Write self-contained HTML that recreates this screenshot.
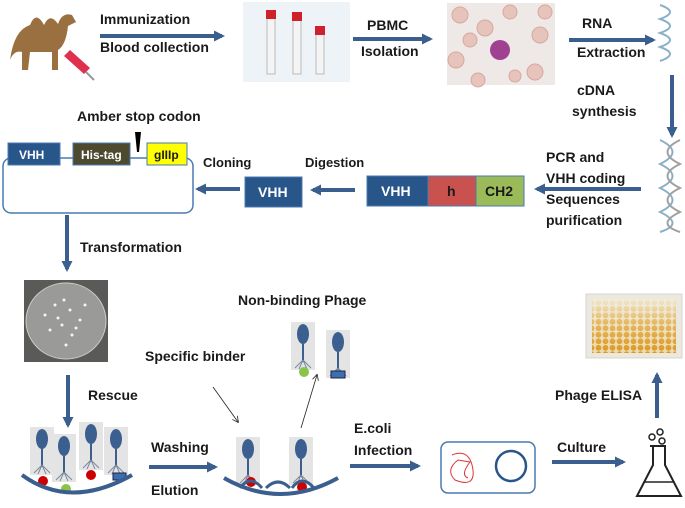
<!DOCTYPE html>
<html><head><meta charset="utf-8"><style>
body{margin:0;background:#fff;}
svg text{font-family:"Liberation Sans",sans-serif;font-weight:bold;font-size:14px;fill:#1a1a1a;}
</style></head><body>
<svg width="685" height="503" viewBox="0 0 685 503" xmlns="http://www.w3.org/2000/svg">
<defs>
<marker id="a" markerUnits="userSpaceOnUse" markerWidth="11" markerHeight="11" refX="8" refY="5.5" orient="auto"><path d="M0,0 L11,5.5 L0,11 z" fill="#3a5f8f"/></marker>
<marker id="t" markerWidth="8" markerHeight="8" refX="7" refY="4" orient="auto"><path d="M0,0 L8,4 L0,8" fill="none" stroke="#222" stroke-width="1"/></marker>
<linearGradient id="pg" x1="0" y1="0" x2="0" y2="1"><stop offset="0" stop-color="#f0e8d0"/><stop offset="0.45" stop-color="#e4b860"/><stop offset="1" stop-color="#dc9a20"/></linearGradient>
<pattern id="wells" width="7" height="6.5" patternUnits="userSpaceOnUse"><path d="M0,0 H7 V6.5 H0z M3.5,0.4 a2.9,2.9 0 1,0 0.01,0z" fill="#f2eee4" fill-rule="evenodd" opacity="0.75"/></pattern>
<g id="ph"><rect x="-12" y="-28" width="24" height="48" fill="#e4e4e4"/><ellipse cx="0" cy="-16" rx="6" ry="10" fill="#3b5f8f"/><line x1="0" y1="-6" x2="0" y2="12" stroke="#3b5f8f" stroke-width="2"/><path d="M0,10 l-8,8 M0,10 l8,8 M0,10 l-4,9 M0,10 l4,9" stroke="#7a8aa0" stroke-width="1"/></g>
</defs>
<path d="M10,60 Q14,30 30,25 Q36,10 44,25 Q50,12 58,24 Q62,12 72,15 L76,22 L68,26 Q66,45 58,50 L58,70 L52,70 L52,52 L30,52 L28,70 L22,70 L22,52 Q14,50 10,60z" fill="#9a7040"/>
<path d="M70,50 L90,68 L84,74 L64,56z" fill="#e03050"/><line x1="86" y1="72" x2="94" y2="80" stroke="#999" stroke-width="2"/>
<text x="100" y="24">Immunization</text><text x="100" y="52">Blood collection</text>
<line x1="100" y1="36" x2="222" y2="36" stroke="#3a5f8f" stroke-width="4" marker-end="url(#a)"/>
<rect x="243" y="2" width="107" height="80" fill="#eef3f8"/>
<g><rect x="267" y="12" width="8" height="62" fill="#f4f4f4" stroke="#bbb"/><rect x="266" y="10" width="10" height="9" fill="#d0202a"/>
<rect x="293" y="14" width="8" height="60" fill="#f4f4f4" stroke="#bbb"/><rect x="292" y="12" width="10" height="9" fill="#d0202a"/>
<rect x="316" y="28" width="8" height="46" fill="#f4f4f4" stroke="#bbb"/><rect x="315" y="26" width="10" height="9" fill="#d0202a"/></g>
<text x="367" y="30">PBMC</text><text x="361" y="56">Isolation</text>
<line x1="353" y1="39" x2="430" y2="39" stroke="#3a5f8f" stroke-width="4" marker-end="url(#a)"/>
<rect x="447" y="3" width="108" height="82" fill="#eee8e6"/>
<g fill="#e6c4bc" stroke="#d7a89d"><circle cx="460" cy="15" r="8"/><circle cx="485" cy="28" r="8"/><circle cx="540" cy="35" r="8"/><circle cx="456" cy="60" r="8"/><circle cx="478" cy="80" r="7"/><circle cx="535" cy="72" r="8"/><circle cx="510" cy="12" r="7"/><circle cx="470" cy="40" r="7"/><circle cx="545" cy="12" r="7"/><circle cx="515" cy="76" r="6"/></g>
<circle cx="500" cy="50" r="10" fill="#a04090"/>
<text x="582" y="28">RNA</text><text x="577" y="57">Extraction</text>
<line x1="569" y1="40" x2="653" y2="40" stroke="#3a5f8f" stroke-width="4" marker-end="url(#a)"/>
<path d="M660,5 Q680,12 660,19 Q680,26 660,33 Q680,40 660,47 Q680,54 660,61" fill="none" stroke="#8ab0c8" stroke-width="2"/>
<line x1="672" y1="75" x2="672" y2="135" stroke="#3a5f8f" stroke-width="4" marker-end="url(#a)"/>
<text x="577" y="95">cDNA</text><text x="572" y="116">synthesis</text>
<path d="M660,140 Q685,152 660,164 Q685,176 660,188 Q685,200 660,212 Q685,224 660,232" fill="none" stroke="#8ab0c8" stroke-width="2"/>
<path d="M680,140 Q655,152 680,164 Q655,176 680,188 Q655,200 680,212 Q655,224 680,232" fill="none" stroke="#a0a0a0" stroke-width="2"/>
<text x="546" y="162">PCR and</text><text x="546" y="183">VHH coding</text><text x="546" y="204">Sequences</text><text x="546" y="225">purification</text>
<line x1="641" y1="189" x2="537" y2="189" stroke="#3a5f8f" stroke-width="4" marker-end="url(#a)"/>
<rect x="367" y="176" width="61" height="30" fill="#28558a" stroke="#4a7ab0"/><text x="381" y="196" style="fill:#fff">VHH</text>
<rect x="428" y="176" width="48" height="30" fill="#c9524f" stroke="#4a7ab0"/><text x="447" y="196">h</text>
<rect x="476" y="176" width="48" height="30" fill="#9bbb59" stroke="#4a7ab0"/><text x="485" y="196">CH2</text>
<line x1="355" y1="190" x2="313" y2="190" stroke="#3a5f8f" stroke-width="4" marker-end="url(#a)"/>
<text x="305" y="167" style="font-size:13px">Digestion</text>
<rect x="245" y="177" width="57" height="30" fill="#28558a" stroke="#4a7ab0"/><text x="258" y="197" style="fill:#fff">VHH</text>
<line x1="240" y1="189" x2="198" y2="189" stroke="#3a5f8f" stroke-width="4" marker-end="url(#a)"/>
<text x="203" y="167" style="font-size:13px">Cloning</text>
<rect x="3" y="158" width="190" height="55" rx="8" fill="none" stroke="#4a7ab0" stroke-width="1.5"/>
<rect x="8" y="143" width="52" height="22" fill="#28558a" stroke="#4a7ab0"/><text x="19" y="159" style="fill:#fff;font-size:12px">VHH</text>
<rect x="73" y="143" width="57" height="22" fill="#4e4a30" stroke="#4a7ab0"/><text x="81" y="159" style="fill:#fff;font-size:12px">His-tag</text>
<rect x="147" y="143" width="40" height="22" fill="#ffff00" stroke="#4a7ab0"/><text x="154" y="159" style="font-size:12px">gIIIp</text>
<path d="M135,132 L141,132 L139,152 L137,152z" fill="#000"/>
<text x="77" y="121">Amber stop codon</text>
<line x1="67" y1="215" x2="67" y2="269" stroke="#3a5f8f" stroke-width="4" marker-end="url(#a)"/>
<text x="80" y="252">Transformation</text>
<rect x="24" y="280" width="84" height="82" fill="#5a5a58"/><ellipse cx="66" cy="321" rx="40" ry="38" fill="#9a9a98" stroke="#ccc"/>
<g fill="#f4f4f4"><circle cx="55" cy="305" r="1.5"/><circle cx="70" cy="310" r="1.5"/><circle cx="62" cy="325" r="1.5"/><circle cx="80" cy="320" r="1.5"/><circle cx="50" cy="330" r="1.5"/><circle cx="72" cy="335" r="1.5"/><circle cx="85" cy="305" r="1.5"/><circle cx="45" cy="315" r="1.5"/><circle cx="66" cy="345" r="1.5"/><circle cx="58" cy="318" r="1.5"/><circle cx="76" cy="328" r="1.5"/><circle cx="64" cy="300" r="1.5"/></g>
<line x1="68" y1="375" x2="68" y2="425" stroke="#3a5f8f" stroke-width="4" marker-end="url(#a)"/>
<text x="88" y="400">Rescue</text>
<use href="#ph" x="42" y="455"/><use href="#ph" x="64" y="462"/><use href="#ph" x="91" y="450"/><use href="#ph" x="116" y="455"/>
<circle cx="43" cy="481" r="5" fill="#c00"/><circle cx="66" cy="489" r="5" fill="#8bc34a"/><circle cx="91" cy="475" r="5" fill="#c00"/><rect x="113" y="473" width="13" height="7" fill="#3b6fb0" stroke="#224"/>
<path d="M22,475 Q70,510 132,475" fill="none" stroke="#3a5f8f" stroke-width="4"/>
<text x="151" y="452">Washing</text><text x="151" y="495">Elution</text>
<line x1="149" y1="467" x2="215" y2="467" stroke="#3a5f8f" stroke-width="4" marker-end="url(#a)"/>
<use href="#ph" x="248" y="465"/><use href="#ph" x="301" y="465"/>
<circle cx="251" cy="482" r="5" fill="#c00"/><circle cx="302" cy="487" r="5" fill="#c00"/>
<path d="M224,478 Q280,510 338,478" fill="none" stroke="#3a5f8f" stroke-width="4"/>
<path d="M240,488 q10,-14 22,0 M266,488 q12,-12 24,0 M292,488 q10,-14 22,0" fill="none" stroke="#3a5f8f" stroke-width="3"/>
<text x="145" y="361">Specific binder</text>
<line x1="213" y1="387" x2="238" y2="422" stroke="#222" stroke-width="0.8" marker-end="url(#t)"/>
<line x1="301" y1="428" x2="317" y2="375" stroke="#222" stroke-width="0.8" marker-end="url(#t)"/>
<text x="238" y="305">Non-binding Phage</text>
<use href="#ph" x="303" y="350"/><use href="#ph" x="338" y="358"/>
<circle cx="304" cy="372" r="5" fill="#8bc34a"/><rect x="331" y="371" width="14" height="7" fill="#3b6fb0" stroke="#224"/>
<text x="354" y="433">E.coli</text><text x="354" y="455">Infection</text>
<line x1="350" y1="466" x2="418" y2="466" stroke="#3a5f8f" stroke-width="4" marker-end="url(#a)"/>
<rect x="441" y="442" width="94" height="51" rx="7" fill="none" stroke="#4a7ab0" stroke-width="1.5"/>
<path d="M452,455 Q470,448 473,470 Q475,488 455,480 Q445,470 458,460 L470,462 Q460,475 468,478" fill="none" stroke="#d33" stroke-width="1"/>
<circle cx="511" cy="466" r="15" fill="none" stroke="#28558a" stroke-width="2.5"/>
<text x="557" y="452">Culture</text>
<line x1="552" y1="462" x2="623" y2="462" stroke="#3a5f8f" stroke-width="4" marker-end="url(#a)"/>
<circle cx="652" cy="437" r="3" fill="none" stroke="#222" stroke-width="1.5"/><circle cx="660" cy="432" r="3" fill="none" stroke="#222" stroke-width="1.5"/><circle cx="662" cy="441" r="3" fill="none" stroke="#222" stroke-width="1.5"/>
<path d="M650,446 L666,446 M653,446 L653,465 L637,496 L681,496 L665,465 L665,446" fill="none" stroke="#222" stroke-width="2"/>
<line x1="644" y1="482" x2="674" y2="482" stroke="#222" stroke-width="1.5"/>
<line x1="657" y1="418" x2="657" y2="375" stroke="#3a5f8f" stroke-width="4" marker-end="url(#a)"/>
<text x="555" y="400">Phage ELISA</text>
<rect x="586" y="294" width="96" height="64" fill="#ebe8e0" stroke="#d8d4cc"/>
<rect x="592" y="299" width="84" height="54" fill="url(#pg)"/>
<rect x="592" y="299" width="84" height="54" fill="url(#wells)"/>
</svg>
</body></html>
